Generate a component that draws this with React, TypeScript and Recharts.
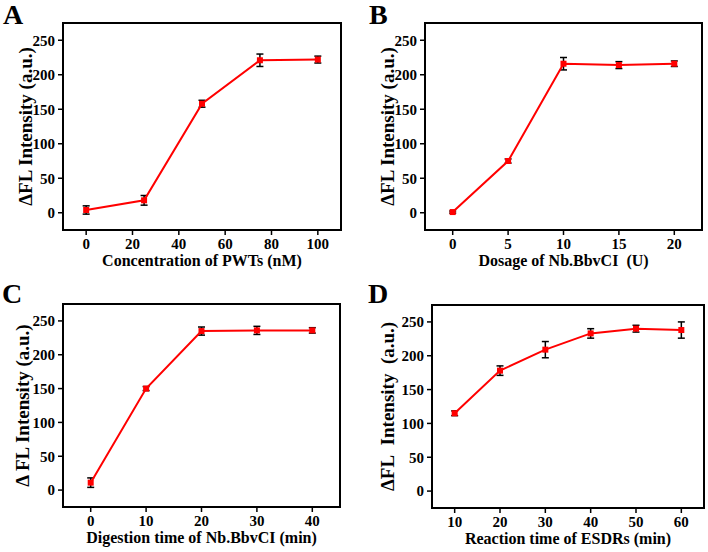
import { LineChart, Line, XAxis, YAxis, ErrorBar, ReferenceArea, Label } from 'recharts'

const concX = [0, 25, 50, 75, 100]
const concY = [4, 18, 158, 221, 222]
const concErr = [6, 7, 5, 9, 5]

const dosageX = [0, 5, 10, 15, 20]
const dosageY = [1, 75, 216, 214, 216]
const dosageErr = [1.5, 3, 9, 5, 4]

const digestX = [0, 10, 20, 30, 40]
const digestY = [11, 150, 235, 236, 236]
const digestErr = [7, 3, 6, 6, 4]

const reactX = [10, 20, 30, 40, 50, 60]
const reactY = [115, 178, 209, 233, 240, 238]
const reactErr = [3.5, 7, 12, 7, 5, 12]

const yTicks = [0, 50, 100, 150, 200, 250]

const FONT = '"Liberation Serif", "Times New Roman", serif'

type PanelProps = {
  letter: string
  left: number
  top: number
  letterPos: [number, number]
  frame: [number, number, number, number] // x0, y0, x1, y1 inside the panel
  yAxisWidth: number
  xs: number[]
  ys: number[]
  errs: number[]
  xDomain: [number, number]
  xTicks: number[]
  xLabel: string
  yLabel: string
}

const SquareDot = (props: any) => {
  const { cx, cy, index } = props
  return <rect key={`dot-${index}`} x={cx - 3} y={cy - 3} width={6} height={6} fill="#ff0000" />
}

function Panel(p: PanelProps) {
  const data = p.xs.map((x, i) => ({ x, y: p.ys[i], err: p.errs[i] }))
  const W = 354
  const H = 276
  const [fx0, fy0, fx1, fy1] = p.frame
  const xAxisHeight = 40
  const tickStyle = { fill: '#000', fontSize: 15, fontWeight: 'bold', fontFamily: FONT }

  return (
    <div style={{ position: 'absolute', left: p.left, top: p.top, width: W, height: H }}>
      <div
        style={{
          position: 'absolute',
          left: p.letterPos[0],
          top: p.letterPos[1],
          fontFamily: FONT,
          fontWeight: 'bold',
          fontSize: 28,
          lineHeight: '28px',
        }}
      >
        {p.letter}
      </div>
      <LineChart
        width={W}
        height={H}
        data={data}
        margin={{ top: fy0, right: W - fx1, bottom: H - fy1 - xAxisHeight, left: fx0 - p.yAxisWidth }}
      >
        <XAxis
          dataKey="x"
          type="number"
          domain={p.xDomain}
          ticks={p.xTicks}
          allowDataOverflow
          height={xAxisHeight}
          tick={tickStyle}
          tickSize={5}
          tickMargin={3}
          axisLine={{ stroke: '#000', strokeWidth: 2 }}
          tickLine={{ stroke: '#000', strokeWidth: 1.5 }}
        >
          <Label
            value={p.xLabel}
            position="insideBottom"
            offset={4}
            style={{ fill: '#000', fontSize: 16, fontWeight: 'bold', fontFamily: FONT }}
          />
        </XAxis>
        <YAxis
          type="number"
          domain={[-25, 275]}
          ticks={yTicks}
          allowDataOverflow
          width={p.yAxisWidth}
          tick={tickStyle}
          tickSize={5}
          tickMargin={3}
          axisLine={{ stroke: '#000', strokeWidth: 2 }}
          tickLine={{ stroke: '#000', strokeWidth: 1.5 }}
        >
          <Label
            value={p.yLabel}
            position="center"
            angle={-90}
            style={{ fill: '#000', fontSize: 19, fontWeight: 'bold', fontFamily: FONT }}
          />
        </YAxis>
        <ReferenceArea
          x1={p.xDomain[0]}
          x2={p.xDomain[1]}
          y1={-25}
          y2={275}
          fill="none"
          stroke="#000"
          strokeWidth={2}
          ifOverflow="visible"
        />
        <Line
          type="linear"
          dataKey="y"
          stroke="#ff0000"
          strokeWidth={2}
          dot={SquareDot}
          activeDot={false}
          isAnimationActive={false}
        >
          <ErrorBar dataKey="err" direction="y" width={3.5} stroke="#000" strokeWidth={1.5} />
        </Line>
      </LineChart>
    </div>
  )
}

export default function App() {
  return (
    <div style={{ position: 'absolute', left: 0, top: 0, width: 708, height: 552, background: '#fff' }}>
      <Panel
        letter="A"
        left={0}
        top={0}
        letterPos={[3, 1]}
        frame={[63, 23, 341, 230]}
        yAxisWidth={76}
        xs={concX}
        ys={concY}
        errs={concErr}
        xDomain={[-10, 110]}
        xTicks={[0, 20, 40, 60, 80, 100]}
        xLabel="Concentration of PWTs (nM)"
        yLabel="ΔFL Intensity (a.u.)"
      />
      <Panel
        letter="B"
        left={354}
        top={0}
        letterPos={[15, 1]}
        frame={[71, 23, 348, 230]}
        yAxisWidth={76}
        xs={dosageX}
        ys={dosageY}
        errs={dosageErr}
        xDomain={[-2.5, 22.5]}
        xTicks={[0, 5, 10, 15, 20]}
        xLabel={'Dosage of Nb.BbvCI\u00a0\u00a0(U)'}
        yLabel="ΔFL Intensity (a.u.)"
      />
      <Panel
        letter="C"
        left={0}
        top={276}
        letterPos={[2, 4]}
        frame={[63, 28, 340, 231]}
        yAxisWidth={82}
        xs={digestX}
        ys={digestY}
        errs={digestErr}
        xDomain={[-5, 45]}
        xTicks={[0, 10, 20, 30, 40]}
        xLabel="Digestion time of Nb.BbvCI (min)"
        yLabel="Δ FL Intensity (a.u.)"
      />
      <Panel
        letter="D"
        left={354}
        top={276}
        letterPos={[14, 4]}
        frame={[78, 29, 350, 232]}
        yAxisWidth={90}
        xs={reactX}
        ys={reactY}
        errs={reactErr}
        xDomain={[5, 65]}
        xTicks={[10, 20, 30, 40, 50, 60]}
        xLabel="Reaction time of ESDRs (min)"
        yLabel={'ΔFL\u00a0\u00a0Intensity\u00a0\u00a0(a.u.)'}
      />
    </div>
  )
}
